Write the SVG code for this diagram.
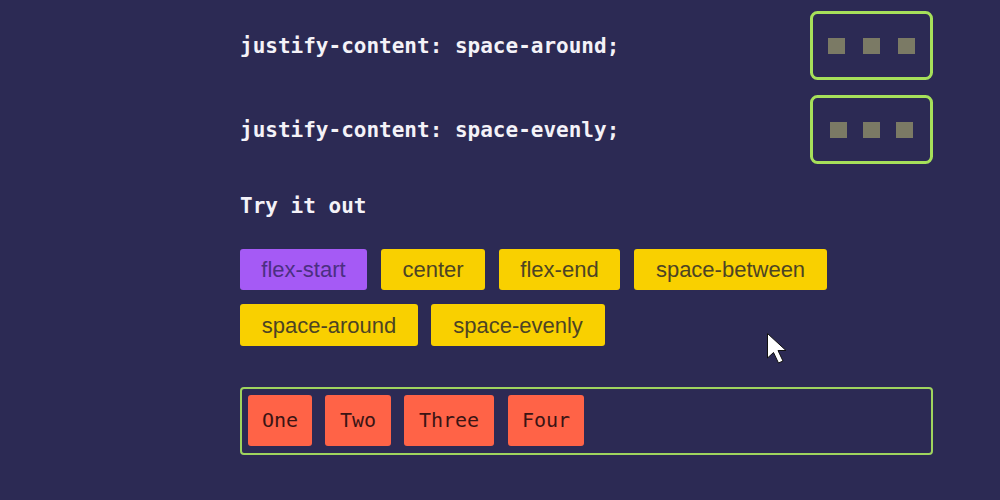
<svg xmlns="http://www.w3.org/2000/svg" width="1000" height="500" viewBox="0 0 1000 500">
<style>
.code{font-family:"DejaVu Sans Mono","Liberation Mono",monospace;font-weight:bold;font-size:21px;fill:#f4f2f8}
.demo{fill:none;stroke:#a6e05a;stroke-width:3}
.sq{fill:#7b7a65}
.btn{fill:#f9d000}
.btn-on{fill:#a55af5}
.bt{font-family:"Liberation Sans",Arial,sans-serif;font-size:22px;fill:#4d4424;text-anchor:middle}
.bt-on{fill:#4b2f82}
.item{fill:#ff6347}
.it{font-family:"DejaVu Sans Mono","Liberation Mono",monospace;font-size:20px;fill:#3a1414;text-anchor:middle}
</style>
<rect width="1000" height="500" fill="#2c2a54"/>

<g id="row-space-around">
<text class="code" x="240" y="53">justify-content: space-around;</text>
<rect class="demo" x="811.5" y="12.5" width="120" height="66" rx="6"/>
<rect class="sq" x="828" y="38" width="17" height="16"/>
<rect class="sq" x="863" y="38" width="17" height="16"/>
<rect class="sq" x="898" y="38" width="17" height="16"/>
</g>

<g id="row-space-evenly">
<text class="code" x="240" y="137">justify-content: space-evenly;</text>
<rect class="demo" x="811.5" y="96.5" width="120" height="66" rx="6"/>
<rect class="sq" x="830" y="122" width="17" height="16"/>
<rect class="sq" x="863" y="122" width="17" height="16"/>
<rect class="sq" x="896" y="122" width="17" height="16"/>
</g>

<g id="try-heading">
<text class="code" x="240" y="213">Try it out</text>
</g>

<g id="btn-flex-start">
<rect class="btn-on" x="240" y="249" width="127" height="41" rx="3"/>
<text class="bt bt-on" x="303.5" y="277">flex-start</text>
</g>
<g id="btn-center">
<rect class="btn" x="381" y="249" width="104" height="41" rx="3"/>
<text class="bt" x="433" y="277">center</text>
</g>
<g id="btn-flex-end">
<rect class="btn" x="499" y="249" width="121" height="41" rx="3"/>
<text class="bt" x="559.5" y="277">flex-end</text>
</g>
<g id="btn-space-between">
<rect class="btn" x="634" y="249" width="193" height="41" rx="3"/>
<text class="bt" x="730.5" y="277">space-between</text>
</g>
<g id="btn-space-around">
<rect class="btn" x="240" y="304" width="178" height="42" rx="3"/>
<text class="bt" x="329" y="333">space-around</text>
</g>
<g id="btn-space-evenly">
<rect class="btn" x="431" y="304" width="174" height="42" rx="3"/>
<text class="bt" x="518" y="333">space-evenly</text>
</g>

<g id="container">
<rect x="241" y="388" width="691" height="66" rx="3" fill="none" stroke="#9fd45e" stroke-width="2"/>
</g>
<g id="item-one">
<rect class="item" x="248" y="395" width="64" height="51" rx="3"/>
<text class="it" x="280" y="427">One</text>
</g>
<g id="item-two">
<rect class="item" x="325" y="395" width="66" height="51" rx="3"/>
<text class="it" x="358" y="427">Two</text>
</g>
<g id="item-three">
<rect class="item" x="404" y="395" width="90" height="51" rx="3"/>
<text class="it" x="449" y="427">Three</text>
</g>
<g id="item-four">
<rect class="item" x="508" y="395" width="76" height="51" rx="3"/>
<text class="it" x="546" y="427">Four</text>
</g>

<g id="cursor">
<path d="M767.5,333.5 L767.5,358 L773.5,352.5 L778.5,363 L783,361 L778,350.5 L786,350.5 Z" fill="#ffffff" stroke="#111111" stroke-width="1" stroke-linejoin="round"/>
</g>
</svg>
